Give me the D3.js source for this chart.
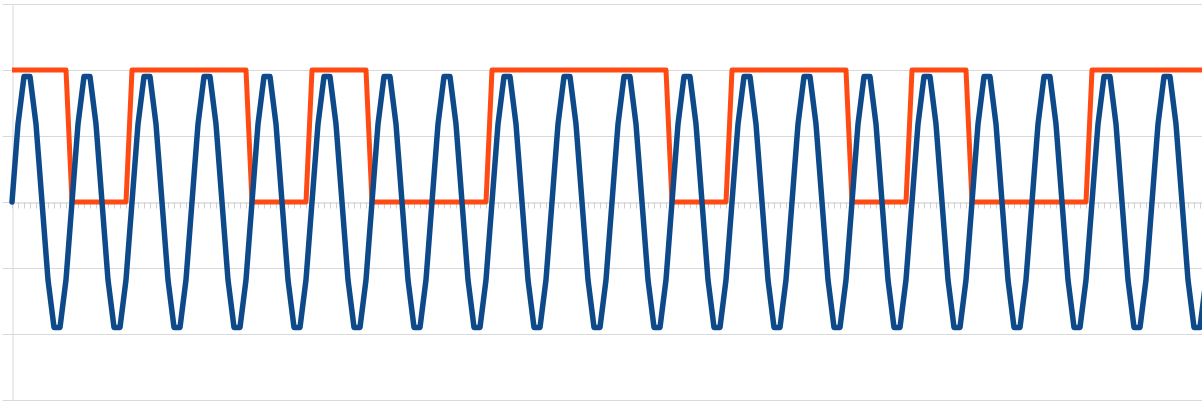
<!DOCTYPE html>
<html>
<head>
<meta charset="utf-8">
<script src="https://cdn.jsdelivr.net/npm/d3@7"></script>
<style>
  html, body { margin: 0; padding: 0; background: #ffffff; }
  svg { display: block; }
</style>
</head>
<body>
<svg id="chart" width="1202" height="401"></svg>
<script>
// ---- data ----
const yTicks = [-3, -2, -1, 0, 1, 2, 3];

// carrier (sampled sine), 10 samples per bit
const carrier = [
  0, 1.18, 1.9, 1.9, 1.18, 0, -1.18, -1.9, -1.9, -1.18,
  0, 1.18, 1.9, 1.9, 1.18, 0, -1.18, -1.9, -1.9, -1.18,
  0, 1.18, 1.9, 1.9, 1.18, 0, -1.18, -1.9, -1.9, -1.18,
  0, 1.18, 1.9, 1.9, 1.18, 0, -1.18, -1.9, -1.9, -1.18,
  0, 1.18, 1.9, 1.9, 1.18, 0, -1.18, -1.9, -1.9, -1.18,
  0, 1.18, 1.9, 1.9, 1.18, 0, -1.18, -1.9, -1.9, -1.18,
  0, 1.18, 1.9, 1.9, 1.18, 0, -1.18, -1.9, -1.9, -1.18,
  0, 1.18, 1.9, 1.9, 1.18, 0, -1.18, -1.9, -1.9, -1.18,
  0, 1.18, 1.9, 1.9, 1.18, 0, -1.18, -1.9, -1.9, -1.18,
  0, 1.18, 1.9, 1.9, 1.18, 0, -1.18, -1.9, -1.9, -1.18,
  0, 1.18, 1.9, 1.9, 1.18, 0, -1.18, -1.9, -1.9, -1.18,
  0, 1.18, 1.9, 1.9, 1.18, 0, -1.18, -1.9, -1.9, -1.18,
  0, 1.18, 1.9, 1.9, 1.18, 0, -1.18, -1.9, -1.9, -1.18,
  0, 1.18, 1.9, 1.9, 1.18, 0, -1.18, -1.9, -1.9, -1.18,
  0, 1.18, 1.9, 1.9, 1.18, 0, -1.18, -1.9, -1.9, -1.18,
  0, 1.18, 1.9, 1.9, 1.18, 0, -1.18, -1.9, -1.9, -1.18,
  0, 1.18, 1.9, 1.9, 1.18, 0, -1.18, -1.9, -1.9, -1.18,
  0, 1.18, 1.9, 1.9, 1.18, 0, -1.18, -1.9, -1.9, -1.18,
  0, 1.18, 1.9, 1.9, 1.18, 0, -1.18, -1.9, -1.9, -1.18,
  0, 1.18, 1.9, 1.9, 1.18, 0, -1.18, -1.9, -1.9, -1.18
];

// digital signal (square wave), same samples
const signal = [
  2, 2, 2, 2, 2, 2, 2, 2, 2, 2,
  0, 0, 0, 0, 0, 0, 0, 0, 0, 0,
  2, 2, 2, 2, 2, 2, 2, 2, 2, 2,
  2, 2, 2, 2, 2, 2, 2, 2, 2, 2,
  0, 0, 0, 0, 0, 0, 0, 0, 0, 0,
  2, 2, 2, 2, 2, 2, 2, 2, 2, 2,
  0, 0, 0, 0, 0, 0, 0, 0, 0, 0,
  0, 0, 0, 0, 0, 0, 0, 0, 0, 0,
  2, 2, 2, 2, 2, 2, 2, 2, 2, 2,
  2, 2, 2, 2, 2, 2, 2, 2, 2, 2,
  2, 2, 2, 2, 2, 2, 2, 2, 2, 2,
  0, 0, 0, 0, 0, 0, 0, 0, 0, 0,
  2, 2, 2, 2, 2, 2, 2, 2, 2, 2,
  2, 2, 2, 2, 2, 2, 2, 2, 2, 2,
  0, 0, 0, 0, 0, 0, 0, 0, 0, 0,
  2, 2, 2, 2, 2, 2, 2, 2, 2, 2,
  0, 0, 0, 0, 0, 0, 0, 0, 0, 0,
  0, 0, 0, 0, 0, 0, 0, 0, 0, 0,
  2, 2, 2, 2, 2, 2, 2, 2, 2, 2,
  2, 2, 2, 2, 2, 2, 2, 2, 2, 2
];

const categories = carrier.map((_, i) => i);

// ---- chart ----
const svg = d3.select("#chart");
const mLeft = 12, mRight = 1206, mTop = 4, mBottom = 400;

const x = d3.scaleLinear().domain([0, categories.length - 1]).range([mLeft, mRight]);
const y = d3.scaleLinear().domain([-3, 3]).range([mBottom, mTop]);

// y axis with outside tick stubs
const yAxis = svg.append("g")
  .attr("transform", `translate(${mLeft + 0.5},0)`)
  .call(d3.axisLeft(y).tickValues(yTicks).tickSize(10).tickFormat("").tickSizeOuter(0));
yAxis.selectAll("text").remove();
yAxis.select(".domain").attr("stroke", "#d9d9d9").attr("stroke-width", 1);
yAxis.selectAll(".tick line").attr("stroke", "#d9d9d9");

// horizontal gridlines
svg.append("g")
  .selectAll("line")
  .data(yTicks.filter(d => d !== 0))
  .join("line")
  .attr("x1", mLeft).attr("x2", mRight)
  .attr("y1", d => Math.round(y(d)) + 0.5).attr("y2", d => Math.round(y(d)) + 0.5)
  .attr("stroke", "#d9d9d9").attr("stroke-width", 1);

// category axis at zero with small ticks
const xAxis = svg.append("g")
  .attr("transform", `translate(0,${Math.round(y(0)) + 0.5})`)
  .call(d3.axisBottom(x).tickValues(categories).tickSize(6).tickFormat("").tickSizeOuter(0));
xAxis.select(".domain").attr("stroke", "#c8c8c8").attr("stroke-width", 1);
xAxis.selectAll(".tick line").attr("stroke", "#d0d0d0");

const line = d3.line().x((d, i) => x(categories[i])).y(d => y(d));

svg.append("path")
  .datum(signal)
  .attr("fill", "none")
  .attr("stroke", "#ff4a14")
  .attr("stroke-width", 5)
  .attr("stroke-linejoin", "round")
  .attr("stroke-linecap", "butt")
  .attr("d", line);

svg.append("path")
  .datum(carrier)
  .attr("fill", "none")
  .attr("stroke", "#0e4a8a")
  .attr("stroke-width", 5.5)
  .attr("stroke-linejoin", "round")
  .attr("stroke-linecap", "round")
  .attr("d", line);
</script>
</body>
</html>
